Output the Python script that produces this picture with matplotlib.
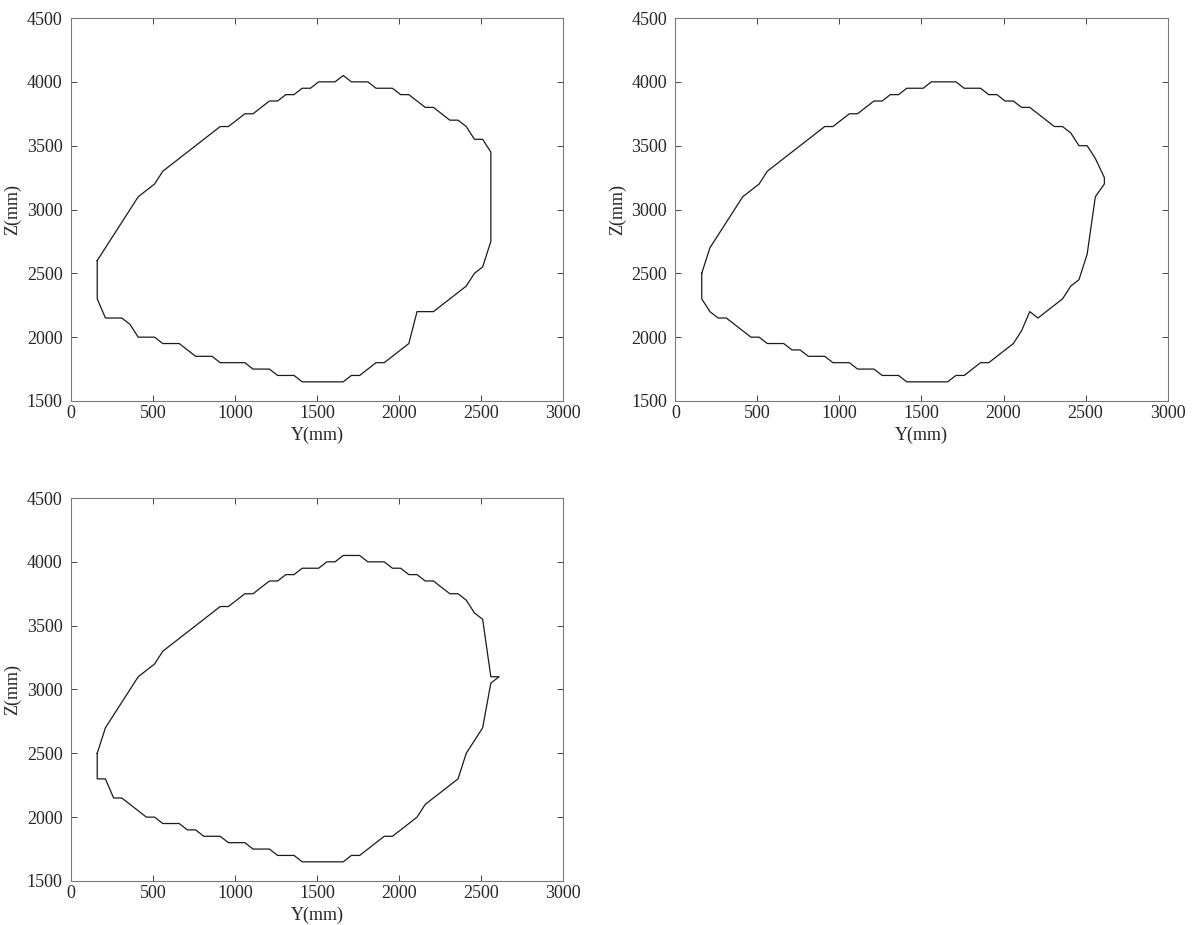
import matplotlib
matplotlib.use("Agg")
import matplotlib.pyplot as plt

plt.rcParams['font.family'] = ['Liberation Serif', 'DejaVu Serif']

# cross-section outlines, Y and Z in mm, traced clockwise
y1 = [160, 410, 510, 560, 910, 960, 1060, 1110, 1210, 1260, 1310, 1360, 1410, 1460,
      1510, 1610, 1660, 1710, 1810, 1860, 1960, 2010, 2060, 2160, 2210, 2310, 2360,
      2410, 2460, 2510, 2560, 2560, 2510, 2460, 2410, 2210, 2110, 2060, 1910, 1860,
      1760, 1710, 1660, 1410, 1360, 1260, 1210, 1110, 1060, 910, 860, 760, 660, 560,
      510, 410, 360, 310, 210, 160, 160]
z1 = [2600, 3100, 3200, 3300, 3650, 3650, 3750, 3750, 3850, 3850, 3900, 3900, 3950, 3950,
      4000, 4000, 4050, 4000, 4000, 3950, 3950, 3900, 3900, 3800, 3800, 3700, 3700,
      3650, 3550, 3550, 3450, 2750, 2550, 2500, 2400, 2200, 2200, 1950, 1800, 1800,
      1700, 1700, 1650, 1650, 1700, 1700, 1750, 1750, 1800, 1800, 1850, 1850, 1950, 1950,
      2000, 2000, 2100, 2150, 2150, 2300, 2600]

y2 = [160, 185, 210, 410, 510, 560, 910, 960, 1060, 1110, 1210, 1260, 1310, 1360, 1410,
      1510, 1560, 1710, 1760, 1860, 1910, 1960, 2010, 2060, 2110, 2160, 2310, 2360, 2410,
      2460, 2510, 2560, 2615, 2615, 2560, 2510, 2460, 2410, 2360, 2210, 2160, 2110, 2060,
      1910, 1860, 1760, 1710, 1660, 1410, 1360, 1260, 1210, 1110, 1060, 960, 910, 810,
      760, 710, 660, 560, 510, 460, 310, 260, 210, 160, 160]
z2 = [2500, 2600, 2700, 3100, 3200, 3300, 3650, 3650, 3750, 3750, 3850, 3850, 3900, 3900, 3950,
      3950, 4000, 4000, 3950, 3950, 3900, 3900, 3850, 3850, 3800, 3800, 3650, 3650, 3600,
      3500, 3500, 3400, 3250, 3200, 3100, 2650, 2450, 2400, 2300, 2150, 2200, 2050, 1950,
      1800, 1800, 1700, 1700, 1650, 1650, 1700, 1700, 1750, 1750, 1800, 1800, 1850, 1850,
      1900, 1900, 1950, 1950, 2000, 2000, 2150, 2150, 2200, 2300, 2500]

y3 = [160, 185, 210, 410, 510, 560, 910, 960, 1060, 1110, 1210, 1260, 1310, 1360, 1410,
      1510, 1560, 1610, 1660, 1760, 1810, 1910, 1960, 2010, 2060, 2110, 2160, 2210, 2310,
      2360, 2410, 2460, 2510, 2560, 2610, 2560, 2510, 2410, 2360, 2160, 2110, 1960, 1910,
      1760, 1710, 1660, 1410, 1360, 1260, 1210, 1110, 1060, 960, 910, 810, 760, 710, 660,
      560, 510, 460, 310, 260, 210, 160, 160]
z3 = [2500, 2600, 2700, 3100, 3200, 3300, 3650, 3650, 3750, 3750, 3850, 3850, 3900, 3900, 3950,
      3950, 4000, 4000, 4050, 4050, 4000, 4000, 3950, 3950, 3900, 3900, 3850, 3850, 3750,
      3750, 3700, 3600, 3550, 3100, 3100, 3050, 2700, 2500, 2300, 2100, 2000, 1850, 1850,
      1700, 1700, 1650, 1650, 1700, 1700, 1750, 1750, 1800, 1800, 1850, 1850, 1900, 1900, 1950,
      1950, 2000, 2000, 2150, 2150, 2300, 2300, 2500]

outlines = [(y1, z1), (y2, z2), (y3, z3)]

fig = plt.figure(figsize=(12.03, 9.25), dpi=100)
rects = [[0.0590, 0.5665, 0.4090, 0.4140],
         [0.5615, 0.5665, 0.4090, 0.4140],
         [0.0590, 0.0476, 0.4090, 0.4140]]

for (ys, zs), rect in zip(outlines, rects):
    ax = fig.add_axes(rect)
    ax.plot(ys, zs, color='#1a1a1a', lw=0.9)
    ax.set_xlim(0, 3000)
    ax.set_ylim(1500, 4500)
    ax.set_xticks(range(0, 3001, 500))
    ax.set_yticks(range(1500, 4501, 500))
    ax.tick_params(direction='in', length=4, width=0.6, top=True, right=True,
                   labelsize=13, colors='#262626')
    ax.tick_params(axis='y', pad=6)
    ax.tick_params(axis='x', pad=3)
    for sp in ax.spines.values():
        sp.set_color('#7a7a7a')
        sp.set_linewidth(0.8)
    ax.set_xlabel('Y(mm)', fontsize=13, color='#262626', labelpad=3)
    ax.set_ylabel('Z(mm)', fontsize=13, color='#262626', labelpad=4)

fig.savefig('out.png', dpi=100)
